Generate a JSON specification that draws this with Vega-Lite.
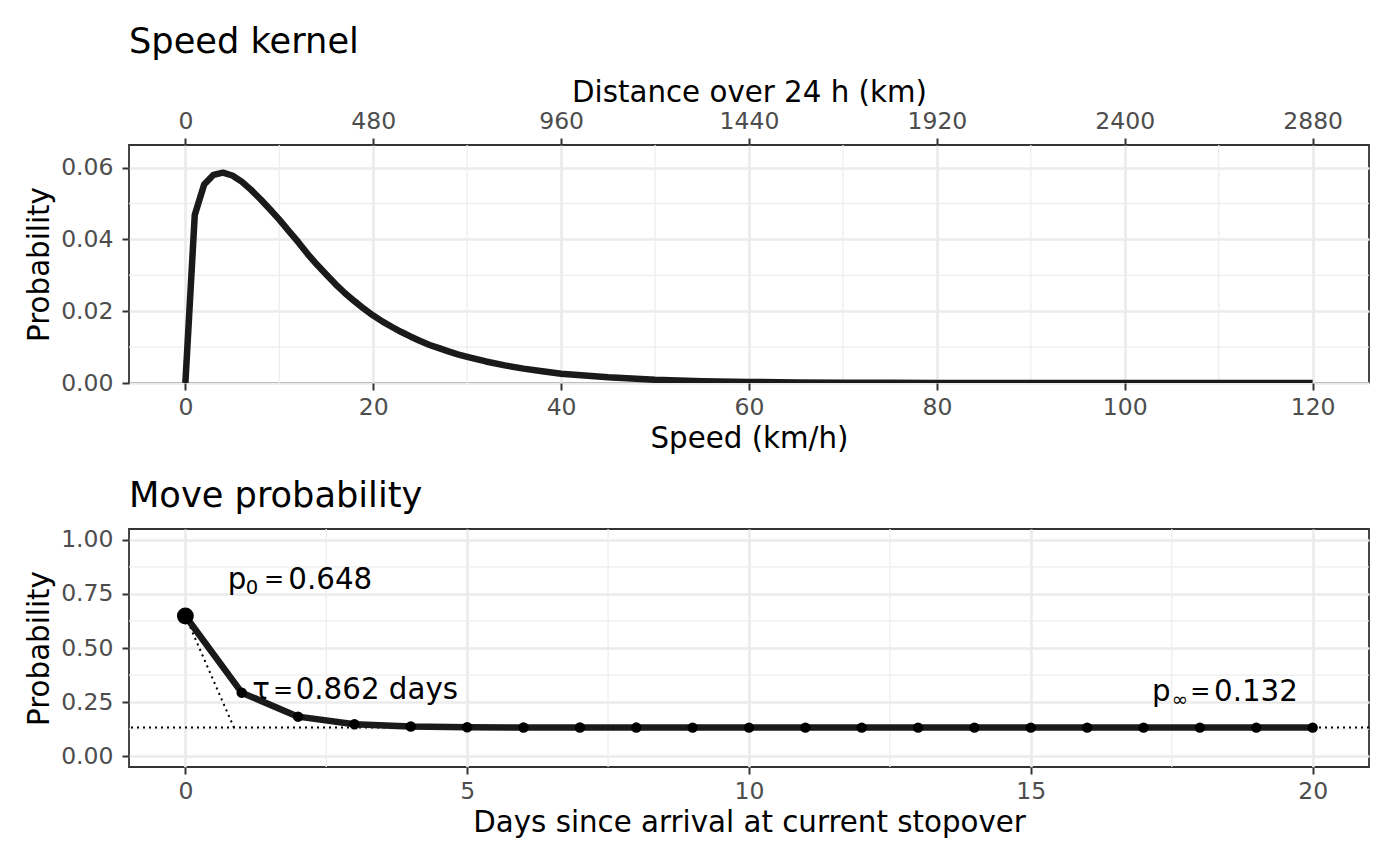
{
  "$schema": "https://vega.github.io/schema/vega-lite/v6.json",
  "background": "#ffffff",
  "padding": {"left": 24, "top": 24, "right": 30, "bottom": 20},
  "spacing": 22,
  "config": {
    "font": "DejaVu Sans",
    "view": {"stroke": "#333333", "strokeWidth": 1.8},
    "axis": {
      "domain": false,
      "labelFontSize": 23.5,
      "labelColor": "#4D4D4D",
      "titleFontSize": 29.3,
      "titleFontWeight": "normal",
      "titleColor": "#000000",
      "tickColor": "#333333",
      "tickWidth": 2,
      "tickSize": 7,
      "gridColor": "#EBEBEB",
      "gridWidth": 2.6,
      "labelPadding": 5,
      "titlePadding": 6
    },
    "axisY": {"labelPadding": 9},
    "title": {"fontSize": 35.2, "fontWeight": "normal", "anchor": "start", "frame": "group", "color": "#000000", "offset": 14}
  },
  "vconcat": [
    {
      "title": {"text": "Speed kernel", "offset": 17.5},
      "width": 1240,
      "height": 238,
      "resolve": {"axis": {"x": "independent"}},
      "layer": [
        {
          "data": {"values": [{"speed": 10}, {"speed": 30}, {"speed": 50}, {"speed": 70}, {"speed": 90}, {"speed": 110}]},
          "mark": {"type": "rule", "color": "#EEEEEE", "strokeWidth": 1.3},
          "encoding": {
            "x": {
              "field": "speed", "type": "quantitative",
              "scale": {"domain": [-6, 126], "nice": false, "zero": false},
              "axis": {"orient": "top", "values": [0, 20, 40, 60, 80, 100, 120], "labelExpr": "format(datum.value * 24, 'd')", "title": "Distance over 24 h (km)", "titlePadding": 2, "grid": false}
            }
          }
        },
        {
          "data": {"values": [{"prob": 0.01}, {"prob": 0.03}, {"prob": 0.05}]},
          "mark": {"type": "rule", "color": "#EEEEEE", "strokeWidth": 1.3},
          "encoding": {
            "y": {
              "field": "prob", "type": "quantitative",
              "scale": {"domain": [0, 0.0663], "nice": false, "zero": false},
              "axis": {"values": [0, 0.02, 0.04, 0.06], "format": ".2f", "title": "Probability", "grid": true}
            }
          }
        },
        {
          "data": {
            "values": [
              {"speed": 0, "prob": 0},
              {"speed": 1, "prob": 0.0468},
              {"speed": 2, "prob": 0.0553},
              {"speed": 3, "prob": 0.058},
              {"speed": 4, "prob": 0.0586},
              {"speed": 5, "prob": 0.0578},
              {"speed": 6, "prob": 0.0561},
              {"speed": 7, "prob": 0.0538},
              {"speed": 8, "prob": 0.0512},
              {"speed": 9, "prob": 0.0484},
              {"speed": 10, "prob": 0.0455},
              {"speed": 11, "prob": 0.0424},
              {"speed": 12, "prob": 0.0393},
              {"speed": 13, "prob": 0.036},
              {"speed": 14, "prob": 0.033},
              {"speed": 15, "prob": 0.0302},
              {"speed": 16, "prob": 0.0275},
              {"speed": 17, "prob": 0.025},
              {"speed": 18, "prob": 0.0228},
              {"speed": 19, "prob": 0.0207},
              {"speed": 20, "prob": 0.0188},
              {"speed": 21, "prob": 0.0171},
              {"speed": 22, "prob": 0.0156},
              {"speed": 23, "prob": 0.0142},
              {"speed": 24, "prob": 0.0129},
              {"speed": 25, "prob": 0.0117},
              {"speed": 26, "prob": 0.0106},
              {"speed": 27, "prob": 0.0097},
              {"speed": 28, "prob": 0.0088},
              {"speed": 29, "prob": 0.008},
              {"speed": 30, "prob": 0.0073},
              {"speed": 32, "prob": 0.006},
              {"speed": 34, "prob": 0.0049},
              {"speed": 36, "prob": 0.004},
              {"speed": 38, "prob": 0.0033},
              {"speed": 40, "prob": 0.0026},
              {"speed": 45, "prob": 0.0016},
              {"speed": 50, "prob": 0.0009},
              {"speed": 55, "prob": 0.0005},
              {"speed": 60, "prob": 0.0003},
              {"speed": 65, "prob": 0.00016},
              {"speed": 70, "prob": 0.0001},
              {"speed": 75, "prob": 0.00005},
              {"speed": 80, "prob": 0.00003},
              {"speed": 90, "prob": 0.00001},
              {"speed": 100, "prob": 0},
              {"speed": 110, "prob": 0},
              {"speed": 120, "prob": 0}
            ]
          },
          "mark": {"type": "line", "color": "#1A1A1A", "strokeWidth": 6.5, "strokeJoin": "round", "clip": true},
          "encoding": {
            "x": {
              "field": "speed", "type": "quantitative",
              "scale": {"domain": [-6, 126], "nice": false, "zero": false},
              "axis": {"orient": "bottom", "values": [0, 20, 40, 60, 80, 100, 120], "format": "d", "title": "Speed (km/h)", "grid": true}
            },
            "y": {
              "field": "prob", "type": "quantitative",
              "scale": {"domain": [0, 0.0663], "nice": false, "zero": false},
              "axis": {"values": [0, 0.02, 0.04, 0.06], "format": ".2f", "title": "Probability", "grid": true}
            }
          }
        }
      ]
    },
    {
      "title": "Move probability",
      "width": 1240,
      "height": 238,
      "layer": [
        {
          "data": {"values": [{"day": 2.5}, {"day": 7.5}, {"day": 12.5}, {"day": 17.5}]},
          "mark": {"type": "rule", "color": "#EEEEEE", "strokeWidth": 1.3},
          "encoding": {
            "x": {"field": "day", "type": "quantitative", "scale": {"domain": [-1, 21], "nice": false, "zero": false}}
          }
        },
        {
          "data": {"values": [{"p": 0.125}, {"p": 0.375}, {"p": 0.625}, {"p": 0.875}]},
          "mark": {"type": "rule", "color": "#EEEEEE", "strokeWidth": 1.3},
          "encoding": {
            "y": {"field": "p", "type": "quantitative", "scale": {"domain": [-0.05, 1.05], "nice": false, "zero": false}}
          }
        },
        {
          "data": {"values": [{"p": 0.132}]},
          "mark": {"type": "rule", "color": "#000000", "strokeWidth": 2, "strokeDash": [2, 4]},
          "encoding": {
            "y": {"field": "p", "type": "quantitative"}
          }
        },
        {
          "data": {"values": [{"day": 0, "p": 0.648, "day2": 0.862, "p2": 0.132}]},
          "mark": {"type": "rule", "color": "#000000", "strokeWidth": 2, "strokeDash": [2, 4]},
          "encoding": {
            "x": {"field": "day", "type": "quantitative"},
            "x2": {"field": "day2"},
            "y": {"field": "p", "type": "quantitative"},
            "y2": {"field": "p2"}
          }
        },
        {
          "data": {"name": "move"},
          "mark": {"type": "line", "color": "#1A1A1A", "strokeWidth": 6.5, "strokeJoin": "round"},
          "encoding": {
            "x": {
              "field": "day", "type": "quantitative",
              "scale": {"domain": [-1, 21], "nice": false, "zero": false},
              "axis": {"values": [0, 5, 10, 15, 20], "format": "d", "title": "Days since arrival at current stopover", "grid": true}
            },
            "y": {
              "field": "p", "type": "quantitative",
              "scale": {"domain": [-0.05, 1.05], "nice": false, "zero": false},
              "axis": {"values": [0, 0.25, 0.5, 0.75, 1], "format": ".2f", "title": "Probability", "grid": true}
            }
          }
        },
        {
          "data": {"name": "move"},
          "transform": [{"filter": "datum.day > 0"}],
          "mark": {"type": "circle", "color": "#000000", "opacity": 1, "size": 110},
          "encoding": {
            "x": {"field": "day", "type": "quantitative"},
            "y": {"field": "p", "type": "quantitative"}
          }
        },
        {
          "data": {"name": "move"},
          "transform": [{"filter": "datum.day == 0"}],
          "mark": {"type": "circle", "color": "#000000", "opacity": 1, "size": 285},
          "encoding": {
            "x": {"field": "day", "type": "quantitative"},
            "y": {"field": "p", "type": "quantitative"}
          }
        },
        {
          "data": {
            "values": [
              {"day": 0.75, "p": 0.7735, "label": "p"},
              {"day": 1.826, "p": 0.7735, "label": "0.648"},
              {"day": 1.188, "p": 0.2637, "label": "τ"},
              {"day": 1.957, "p": 0.2637, "label": "0.862 days"},
              {"day": 17.15, "p": 0.257, "label": "p"},
              {"day": 18.25, "p": 0.257, "label": "0.132"}
            ]
          },
          "mark": {"type": "text", "align": "left", "baseline": "alphabetic", "fontSize": 29.3, "color": "#000000"},
          "encoding": {
            "x": {"field": "day", "type": "quantitative"},
            "y": {"field": "p", "type": "quantitative"},
            "text": {"field": "label"}
          }
        },
        {
          "data": {
            "values": [
              {"day": 1.394, "p": 0.7805, "label": "="},
              {"day": 1.553, "p": 0.2707, "label": "="},
              {"day": 17.83, "p": 0.264, "label": "="}
            ]
          },
          "mark": {"type": "text", "align": "left", "baseline": "alphabetic", "fontSize": 24, "color": "#000000"},
          "encoding": {
            "x": {"field": "day", "type": "quantitative"},
            "y": {"field": "p", "type": "quantitative"},
            "text": {"field": "label"}
          }
        },
        {
          "data": {
            "values": [
              {"day": 1.071, "p": 0.7506, "label": "0"},
              {"day": 17.5, "p": 0.234, "label": "∞"}
            ]
          },
          "mark": {"type": "text", "align": "left", "baseline": "alphabetic", "fontSize": 19.6, "color": "#000000"},
          "encoding": {
            "x": {"field": "day", "type": "quantitative"},
            "y": {"field": "p", "type": "quantitative"},
            "text": {"field": "label"}
          }
        }
      ]
    }
  ],
  "datasets": {
    "move": [
      {"day": 0, "p": 0.648},
      {"day": 1, "p": 0.2937},
      {"day": 2, "p": 0.1827},
      {"day": 3, "p": 0.1479},
      {"day": 4, "p": 0.137},
      {"day": 5, "p": 0.1336},
      {"day": 6, "p": 0.1326},
      {"day": 7, "p": 0.1322},
      {"day": 8, "p": 0.1321},
      {"day": 9, "p": 0.132},
      {"day": 10, "p": 0.132},
      {"day": 11, "p": 0.132},
      {"day": 12, "p": 0.132},
      {"day": 13, "p": 0.132},
      {"day": 14, "p": 0.132},
      {"day": 15, "p": 0.132},
      {"day": 16, "p": 0.132},
      {"day": 17, "p": 0.132},
      {"day": 18, "p": 0.132},
      {"day": 19, "p": 0.132},
      {"day": 20, "p": 0.132}
    ]
  }
}
